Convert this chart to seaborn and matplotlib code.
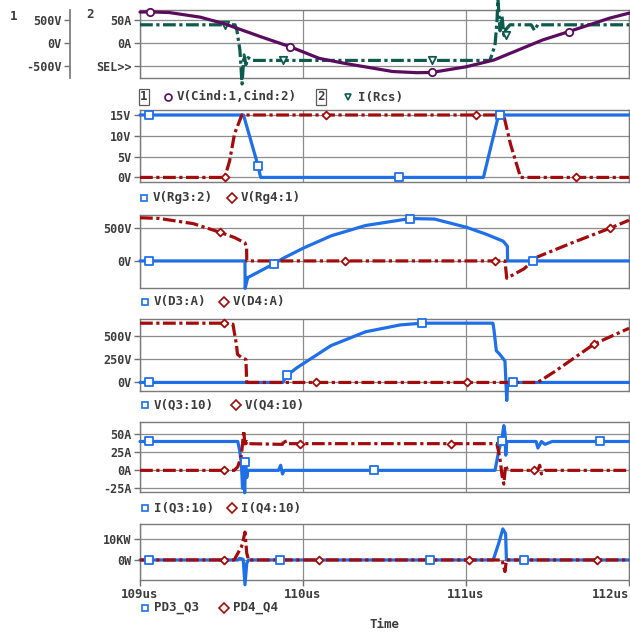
import matplotlib
matplotlib.use("Agg")
import matplotlib.pyplot as plt
from matplotlib.lines import Line2D
import seaborn as sns

# ---------------- data (time in us) ----------------
# panel 1: V(Cind:1,Cind:2) [V] and I(Rcs) [A]
vcind_t = [109.0, 109.06, 109.18, 109.37, 109.52, 109.74, 109.92, 110.1, 110.25, 110.55,
           110.7, 110.79, 111.0, 111.17, 111.47, 111.63, 111.88, 112.0]
vcind_v = [675, 680, 665, 565, 420, 143, -73, -326, -430, -610,
           -635, -630, -508, -363, 72, 252, 543, 652]
vcind_mt = [109.06, 109.92, 110.79, 111.63]
vcind_mv = [680, -73, -630, 252]

ircs_t = [109.0, 109.583, 109.595, 109.613, 109.626, 109.638, 109.65, 109.663, 109.69,
          111.147, 111.178, 111.19, 111.196, 111.209, 111.221, 111.233, 111.245, 111.27,
          111.4, 111.42, 111.44, 112.0]
ircs_i = [40, 40, 27, -15, -88, -25, -46, -31, -37,
          -37, -4, 48, 95, 27, 58, 17, 30, 40,
          40, 28, 40, 40]
ircs_mt = [109.52, 109.877, 110.79, 111.245]
ircs_mi = [40, -36, -37, 17]

# panel 2: V(Rg3:2), V(Rg4:1) [V]
vrg3_t = [109.0, 109.635, 109.725, 109.74, 111.107, 111.2, 112.0]
vrg3_v = [15, 15, 2.7, 0, 0, 15, 15]
vrg3_mt = [109.055, 109.725, 110.59, 111.207]
vrg3_mv = [15, 2.7, 0, 15]

vrg4_t = [109.0, 109.52, 109.55, 109.58, 109.625, 111.231, 111.273, 111.335, 112.0]
vrg4_v = [0, 0, 4, 10.5, 15, 15, 8, 0, 0]
vrg4_mt = [109.52, 110.14, 111.06, 111.677]
vrg4_mv = [0, 15, 15, 0]

# panel 3: V(D3:A), V(D4:A) [V]
vd3_t = [109.0, 109.644, 109.645, 109.661, 109.823, 109.876, 110.003, 110.172, 110.383,
         110.658, 110.806, 111.002, 111.123, 111.228, 111.254, 111.255, 112.0]
vd3_v = [0, 0, -420, -255, -42, 37, 197, 383, 541,
         648, 640, 515, 409, 302, 224, 0, 0]
vd3_mt = [109.056, 109.823, 110.658, 111.408]
vd3_mv = [0, -42, 648, 0]

vd4_t = [109.0, 109.116, 109.327, 109.492, 109.58, 109.644, 109.654, 109.655,
         111.239, 111.25, 111.355, 111.44, 111.65, 111.883, 112.0]
vd4_v = [660, 650, 570, 437, 357, 276, 198, 0,
         0, -265, -122, 63, 276, 500, 622]
vd4_mt = [109.492, 110.26, 111.18, 111.883]
vd4_mv = [437, 0, 0, 500]

# panel 4: V(Q3:10), V(Q4:10) [V]
vq3_t = [109.0, 109.876, 109.902, 109.961, 110.172, 110.383, 110.595, 110.727, 111.165,
         111.172, 111.186, 111.207, 111.239, 111.25, 111.256, 112.0]
vq3_v = [0, 0, 75, 156, 396, 544, 618, 637, 637,
         560, 341, 303, 230, -194, 0, 0]
vq3_mt = [109.056, 109.902, 110.727, 111.29]
vq3_mv = [0, 75, 637, 0]

vq4_t = [109.0, 109.517, 109.57, 109.591, 109.598, 109.623, 109.65, 109.655, 109.66,
         111.44, 111.545, 111.788, 112.0]
vq4_v = [637, 637, 626, 415, 303, 267, 247, -30, 0,
         0, 118, 415, 582]
vq4_mt = [109.517, 110.08, 111.006, 111.788]
vq4_mv = [637, 0, 0, 415]

# panel 5: I(Q3:10), I(Q4:10) [A]
iq3_t = [109.0, 109.6, 109.611, 109.622, 109.629, 109.636, 109.642, 109.648, 109.655, 109.662,
         109.85, 109.863, 109.874, 109.885, 111.178, 111.2, 111.221, 111.232, 111.239, 111.244,
         111.25, 111.43, 111.441, 111.463, 111.485, 111.528, 112.0]
iq3_i = [40, 40, 28, 10, -25, 15, -31, 12, -10, 0,
         0, 7, -5, 0, 0, 26, 45, 62, 52, 21,
         40, 40, 31, 40, 36, 40, 40]
iq3_mt = [109.056, 109.646, 110.437, 111.221, 111.825]
iq3_mi = [40, 12, 0, 40, 40]

iq4_t = [109.0, 109.578, 109.6, 109.622, 109.637, 109.644, 109.655, 109.666, 109.874, 109.885,
         109.896, 111.189, 111.2, 111.211, 111.221, 111.232, 111.243, 111.255, 111.44, 111.452,
         111.463, 111.485, 112.0]
iq4_i = [0, 0, 5, 21, 55, 33, 40, 37, 36, 43,
         37, 37, 26, 12, -7, -19, 7, 0, 0, 7,
         -5, 0, 0]
iq4_mt = [109.517, 109.98, 110.905, 111.42]
iq4_mi = [0, 37, 37, 0]

# panel 6: PD3_Q3, PD4_Q4 [kW]
pd3_t = [109.0, 109.6, 109.611, 109.633, 109.644, 109.655, 109.666,
         111.167, 111.2, 111.226, 111.243, 111.248, 112.0]
pd3_p = [0, 0, 0.8, 0.3, -12, -1.6, 0, 0, 7.9, 15, 12.7, 0, 0]
pd3_mt = [109.056, 109.859, 110.777, 111.353]
pd3_mp = [0, 0, 0, 0]

pd4_t = [109.0, 109.578, 109.6, 109.622, 109.633, 109.644, 109.655, 109.666,
         111.221, 111.239, 111.248, 112.0]
pd4_p = [0, 0, 3.2, 6.3, 9.5, 13.5, 3.2, 0, 0, -5.6, 0, 0]
pd4_mt = [109.517, 110.097, 111.018, 111.802]
pd4_mp = [0, 0, 0, 0]

# axis ticks / labels
x_ticks = [109, 110, 111, 112]
x_labels = ["109us", "110us", "111us", "112us"]
p1_a_ticks, p1_a_labels = [50, 0, -50], ["50A", "0A", "SEL>>"]
p1_v_ticks, p1_v_labels = [500, 0, -500], ["500V", "0V", "-500V"]
p2_ticks, p2_labels = [15, 10, 5, 0], ["15V", "10V", "5V", "0V"]
p3_ticks, p3_labels = [500, 0], ["500V", "0V"]
p4_ticks, p4_labels = [500, 250, 0], ["500V", "250V", "0V"]
p5_ticks, p5_labels = [50, 25, 0, -25], ["50A", "25A", "0A", "-25A"]
p6_ticks, p6_labels = [10, 0], ["10KW", "0W"]

# ---------------- style ----------------
sns.set_theme(style="white")
plt.rcParams['font.family'] = ['DejaVu Sans Mono']
TXT = '#3c3c3c'
BLUE = '#1f6fe8'
RED = '#a30c0c'
PURPLE = '#5a0d5e'
TEAL = '#0c5b4d'
GRID = '#8c8c8c'
DASHDOT = (0, (4, 1.1, 1, 1.1))
FONT = dict(fontsize=9, color=TXT, fontweight='bold')
TICKFONT = dict(fontsize=8.5, color=TXT, fontweight='bold')

W, H = 630, 637
fig = plt.figure(figsize=(6.3, 6.37), dpi=100)


def px_axes(top, bottom):
    return fig.add_axes([140 / W, 1 - bottom / H, 489 / W, (bottom - top) / H])


def style(ax, ylim, ticks, labels, xlabels=False):
    ax.set_xlim(109, 112)
    ax.set_ylim(*ylim)
    ax.set_xticks(x_ticks)
    ax.set_yticks(ticks)
    ax.set_yticklabels(labels, **TICKFONT)
    if xlabels:
        ax.set_xticklabels(x_labels, **FONT)
        ax.get_xticklabels()[-1].set_horizontalalignment('right')
        ax.tick_params(axis='x', length=4, width=1, color='#707070', pad=2, direction='out', bottom=True)
    else:
        ax.set_xticklabels([])
        ax.tick_params(axis='x', length=0)
    ax.tick_params(axis='y', length=4, width=1, color='#707070', pad=2, direction='out', left=True)
    ax.grid(True, color=GRID, lw=0.9)
    ax.set_axisbelow(True)
    for s in ax.spines.values():
        s.set_color('#7a7a7a')
        s.set_linewidth(1)
    ax.set_xlabel('')
    ax.set_ylabel('')


def trace(ax, t, v, color, solid, mt, mv, marker, ms):
    sns.lineplot(x=t, y=v, ax=ax, color=color, lw=2.3, estimator=None, sort=False,
                 linestyle='-' if solid else DASHDOT, clip_on=False, zorder=3)
    sns.scatterplot(x=mt, y=mv, ax=ax, marker=marker, s=ms, color='white',
                    edgecolor=color, linewidth=1.3, zorder=4, clip_on=False)


def legend_row(y, items):
    for x, marker, color, label in items:
        fig.add_artist(Line2D([x / W], [1 - y / H], marker=marker, ms=5, mfc='white', mec=color,
                              mew=1.2, ls='none', transform=fig.transFigure))
        fig.text((x + 9) / W, 1 - y / H, label, va='center', ha='left', **FONT)


# ---------------- panel 1 ----------------
ax1 = px_axes(10, 78)
trace(ax1, ircs_t, ircs_i, TEAL, False, ircs_mt, ircs_mi, 'v', 28)
style(ax1, (-75, 72), p1_a_ticks, p1_a_labels)
axv = ax1.twinx()
trace(axv, vcind_t, vcind_v, PURPLE, True, vcind_mt, vcind_mv, 'o', 28)
for name, s in axv.spines.items():
    s.set_visible(name == 'left')
axv.spines['left'].set_position(('outward', 50.4))
axv.spines['left'].set_color('#7a7a7a')
axv.set_ylim(-750, 720)
axv.set_xlim(109, 112)
axv.yaxis.tick_left()
axv.set_yticks(p1_v_ticks)
axv.set_yticklabels(p1_v_labels, **TICKFONT)
axv.tick_params(axis='y', length=4, width=1, color='#707070', pad=2, direction='out', left=True)
axv.set_ylabel('')
fig.text(10 / W, 1 - 17 / H, '1', va='center', ha='left', **FONT)
fig.text(86 / W, 1 - 15 / H, '2', va='center', ha='left', **FONT)

box = dict(boxstyle='square,pad=0.12', fc='white', ec='#5a5a5a', lw=0.9)
fig.text(140 / W, 1 - 97 / H, '1', va='center', ha='left', bbox=box, **FONT)
fig.add_artist(Line2D([168 / W], [1 - 97 / H], marker='o', ms=5, mfc='white', mec=PURPLE,
                      mew=1.2, ls='none', transform=fig.transFigure))
fig.text(177 / W, 1 - 97 / H, 'V(Cind:1,Cind:2)', va='center', ha='left', **FONT)
fig.text(317 / W, 1 - 97 / H, '2', va='center', ha='left', bbox=box, **FONT)
fig.add_artist(Line2D([348 / W], [1 - 97 / H], marker='v', ms=5, mfc='white', mec=TEAL,
                      mew=1.2, ls='none', transform=fig.transFigure))
fig.text(358 / W, 1 - 97 / H, 'I(Rcs)', va='center', ha='left', **FONT)

# ---------------- panel 2 ----------------
ax2 = px_axes(110, 182)
trace(ax2, vrg3_t, vrg3_v, BLUE, True, vrg3_mt, vrg3_mv, 's', 30)
trace(ax2, vrg4_t, vrg4_v, RED, False, vrg4_mt, vrg4_mv, 'D', 16)
style(ax2, (-1.1, 16.2), p2_ticks, p2_labels)
legend_row(198, [(144, 's', BLUE, 'V(Rg3:2)'), (232, 'D', RED, 'V(Rg4:1)')])

# ---------------- panel 3 ----------------
ax3 = px_axes(215, 288)
trace(ax3, vd3_t, vd3_v, BLUE, True, vd3_mt, vd3_mv, 's', 30)
trace(ax3, vd4_t, vd4_v, RED, False, vd4_mt, vd4_mv, 'D', 16)
style(ax3, (-414, 702), p3_ticks, p3_labels)
legend_row(302, [(145, 's', BLUE, 'V(D3:A)'), (224, 'D', RED, 'V(D4:A)')])

# ---------------- panel 4 ----------------
ax4 = px_axes(319, 391)
trace(ax4, vq3_t, vq3_v, BLUE, True, vq3_mt, vq3_mv, 's', 30)
trace(ax4, vq4_t, vq4_v, RED, False, vq4_mt, vq4_mv, 'D', 16)
style(ax4, (-92, 682), p4_ticks, p4_labels)
legend_row(405, [(145, 's', BLUE, 'V(Q3:10)'), (236, 'D', RED, 'V(Q4:10)')])

# ---------------- panel 5 ----------------
ax5 = px_axes(422, 492)
trace(ax5, iq3_t, iq3_i, BLUE, True, iq3_mt, iq3_mi, 's', 30)
trace(ax5, iq4_t, iq4_i, RED, False, iq4_mt, iq4_mi, 'D', 16)
style(ax5, (-30, 67), p5_ticks, p5_labels)
legend_row(508, [(145, 's', BLUE, 'I(Q3:10)'), (232, 'D', RED, 'I(Q4:10)')])

# ---------------- panel 6 ----------------
ax6 = px_axes(524, 580)
trace(ax6, pd3_t, pd3_p, BLUE, True, pd3_mt, pd3_mp, 's', 30)
trace(ax6, pd4_t, pd4_p, RED, False, pd4_mt, pd4_mp, 'D', 16)
style(ax6, (-9.7, 17.4), p6_ticks, p6_labels, xlabels=True)
legend_row(608, [(145, 's', BLUE, 'PD3_Q3'), (224, 'D', RED, 'PD4_Q4')])
fig.text(384 / W, 1 - 625 / H, 'Time', va='center', ha='center', **FONT)

fig.savefig('out.png', dpi=100)
